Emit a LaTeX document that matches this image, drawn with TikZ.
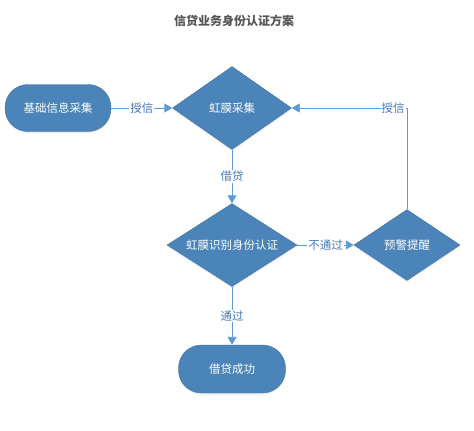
\documentclass[tikz,border=0pt]{standalone}
\usepackage{fontspec}
\setmainfont{Noto Sans CJK SC}
\usetikzlibrary{shapes,arrows.meta,positioning,shadows}

\definecolor{boxblue}{HTML}{4A84B8}
\definecolor{boxedge}{HTML}{41729F}
\definecolor{linkblue}{HTML}{5B9BD5}
\definecolor{labelblue}{HTML}{4779B3}
\definecolor{titlegray}{HTML}{555555}

\begin{document}
\begin{tikzpicture}[x=1pt,y=-1pt,
    terminal/.style={draw=boxedge,fill=boxblue,text=white,rounded corners=23pt,
      minimum width=106pt,minimum height=47pt,inner sep=0pt,font=\fontsize{11.5}{12}\selectfont,
      drop shadow={opacity=0.12,shadow xshift=0pt,shadow yshift=-2pt}},
    decision/.style={draw=boxedge,fill=boxblue,text=white,diamond,aspect=1.4,inner sep=0pt,
      font=\fontsize{11.5}{12}\selectfont,
      drop shadow={opacity=0.12,shadow xshift=0pt,shadow yshift=-2pt}},
    link/.style={draw=linkblue,line width=0.9pt,-{Triangle[length=8pt,width=9pt]}},
    linklabel/.style={fill=white,text=labelblue,inner sep=1pt,font=\fontsize{11.5}{12}\selectfont}]
  \useasboundingbox (0,0) rectangle (474,431);
  \node[font=\bfseries\fontsize{12}{13}\selectfont,text=titlegray] (title) at (234,21) {信贷业务身份认证方案};

  % flow nodes
  \node[terminal] (collect) at (58,108) {基础信息采集};
  \node[decision,minimum width=119pt,minimum height=83pt] (iris) at (232,108) {虹膜采集};
  \node[decision,minimum width=130pt,minimum height=83pt] (verify) at (232,245) {虹膜识别身份认证};
  \node[decision,minimum width=106pt,minimum height=71pt] (warn) at (407,245) {预警提醒};
  \node[terminal,minimum width=107pt,minimum height=48pt] (done) at (232,369) {借贷成功};

  % connectors
  \draw[link] (collect.east) -- node[linklabel]{授信} (iris.west);
  \draw[link] (iris.south) -- node[linklabel]{借贷} (verify.north);
  \draw[link] (verify.east) -- node[linklabel]{不通过} (warn.west);
  \draw[link] (verify.south) -- node[linklabel]{通过} (done.north);
  \draw[link] (warn.north) |- node[linklabel,pos=0.56]{授信} (iris.east);
\end{tikzpicture}
\end{document}
